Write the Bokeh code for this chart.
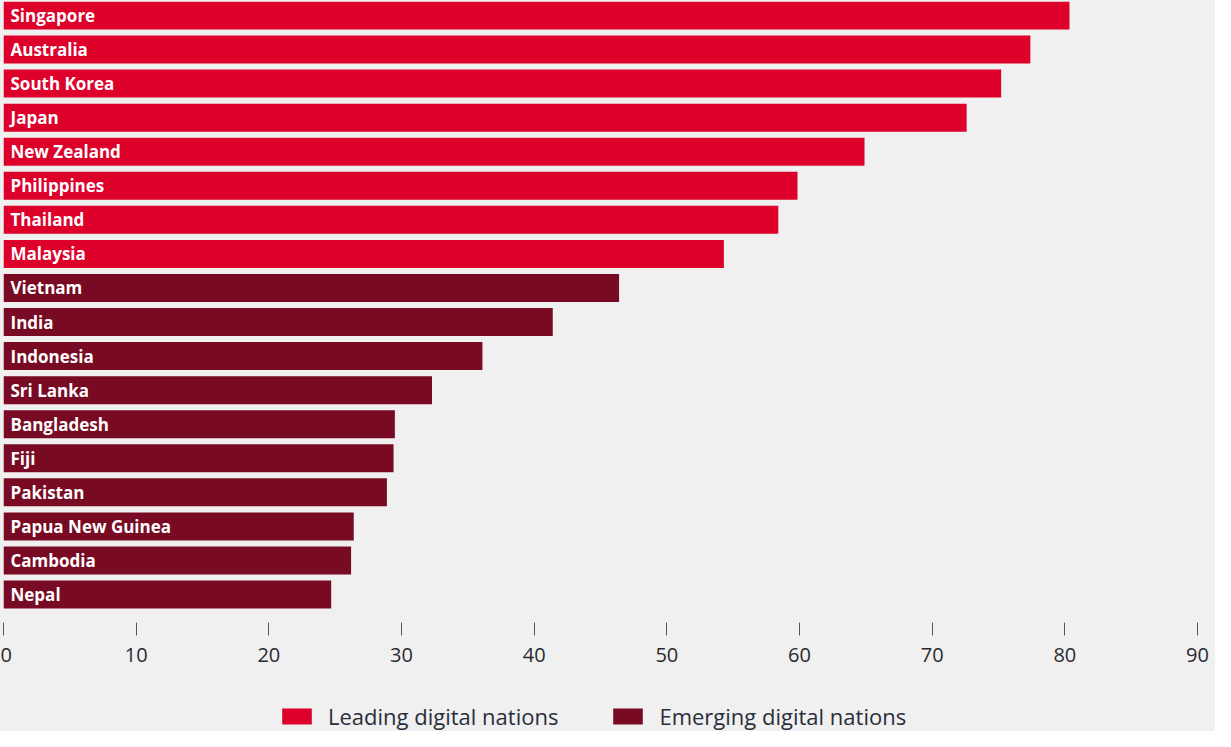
from bokeh.plotting import figure
from bokeh.layouts import column
from bokeh.models import Range1d, ColumnDataSource, Legend, LegendItem, FixedTicker
from bokeh.core.properties import value
from bokeh.embed import file_html
from bokeh.resources import INLINE

countries = ["Singapore", "Australia", "South Korea", "Japan", "New Zealand", "Philippines",
             "Thailand", "Malaysia", "Vietnam", "India", "Indonesia", "Sri Lanka",
             "Bangladesh", "Fiji", "Pakistan", "Papua New Guinea", "Cambodia", "Nepal"]
scores = [80.35, 77.4, 75.2, 72.6, 64.9, 59.85, 58.4, 54.3, 46.4, 41.4, 36.1, 32.3,
          29.5, 29.4, 28.9, 26.4, 26.2, 24.7]
groups = ["Leading digital nations"] * 8 + ["Emerging digital nations"] * 10
group_names = ["Leading digital nations", "Emerging digital nations"]
group_colors = ["#dc002b", "#780a23"]
x_ticks = [0, 10, 20, 30, 40, 50, 60, 70, 80, 90]

BG = "#f0f0f0"

p = figure(width=1215, height=690, output_backend="svg", toolbar_location=None,
           x_range=Range1d(0, 90), y_range=Range1d(17.822, -0.411),
           min_border_left=3, min_border_right=18, min_border_top=1, min_border_bottom=68)
p.background_fill_color = BG
p.border_fill_color = BG
p.outline_line_color = None
p.grid.visible = False
p.yaxis.visible = False

sources = []
for g, c in zip(group_names, group_colors):
    idx = [i for i, gg in enumerate(groups) if gg == g]
    src = ColumnDataSource(dict(y=idx, right=[scores[i] for i in idx],
                                name=[countries[i] for i in idx]))
    sources.append(src)
    p.hbar(y="y", left=0, right="right", height=0.822, source=src,
           fill_color=c, line_color=None)
    p.text(x=0, y="y", text="name", source=src, x_offset=7, text_baseline="middle",
           text_color="white", text_font=value("Open Sans"), text_font_size="17px",
           text_font_style="bold")

ax = p.xaxis[0]
ax.ticker = FixedTicker(ticks=x_ticks)
ax.axis_line_color = None
ax.major_tick_in = 0
ax.major_tick_out = 13
ax.major_tick_line_color = "#555555"
ax.minor_tick_line_color = None
ax.major_label_standoff = 12
ax.major_label_text_font = "Open Sans"
ax.major_label_text_font_size = "20px"
ax.major_label_text_color = "#2a2a30"

# legend strip (its bars lie outside its visible range; only the legend shows)
lf = figure(width=1215, height=41, output_backend="svg", toolbar_location=None,
            x_range=Range1d(1000, 1001), y_range=Range1d(1000, 1001),
            min_border_left=0, min_border_right=0, min_border_top=0, min_border_bottom=0)
lf.background_fill_color = BG
lf.border_fill_color = BG
lf.outline_line_color = None
lf.grid.visible = False
lf.axis.visible = False
items = []
for g, c, src in zip(group_names, group_colors, sources):
    r = lf.hbar(y="y", left=0, right="right", height=0.8, source=src,
                fill_color=c, line_color=None)
    items.append(LegendItem(label=g, renderers=[r]))

legend = Legend(items=items, location=(275, 0), orientation="horizontal",
                background_fill_alpha=0, border_line_color=None,
                glyph_width=37, glyph_height=20, label_height=20,
                label_text_font="Open Sans", label_text_font_size="22px",
                label_text_color="#2b2d3a", label_standoff=13, spacing=51,
                padding=0, margin=0)
lf.add_layout(legend, "center")

layout = column(p, lf, spacing=0, styles={"background-color": BG})
open("out.html", "w").write(file_html(layout, INLINE))
